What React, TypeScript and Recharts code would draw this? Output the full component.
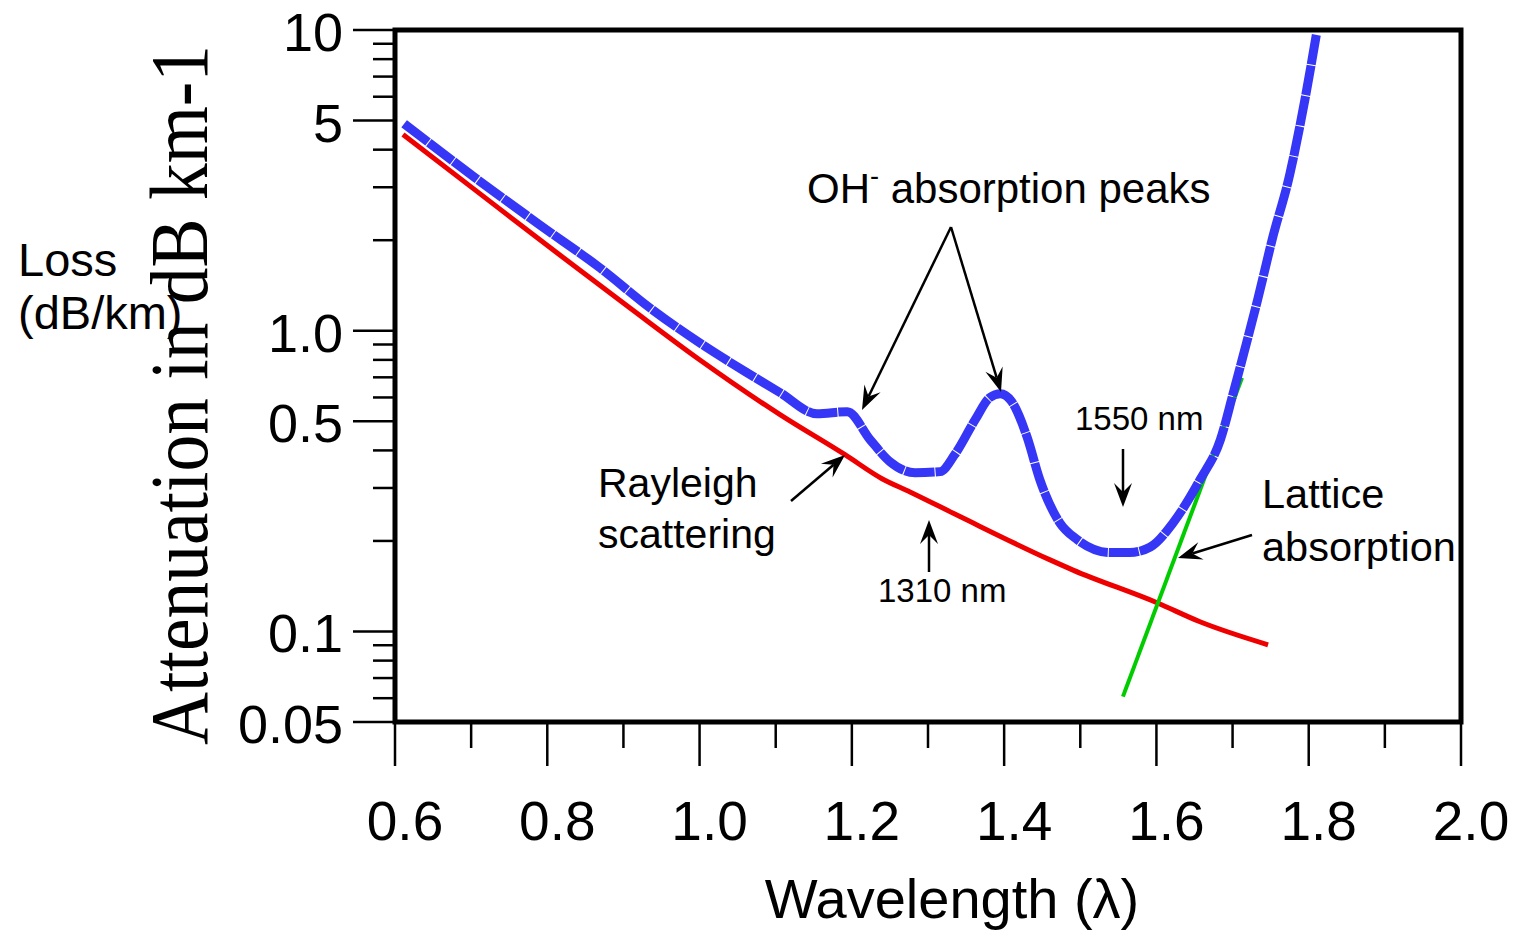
import React from 'react';
import { LineChart, Line, XAxis, YAxis, ReferenceArea } from 'recharts';

// total loss curve (blue)
const totalWavelength = [0.612, 0.705, 0.79, 0.869, 0.935, 1.0, 1.06, 1.106, 1.154, 1.194, 1.224, 1.25, 1.283, 1.316, 1.335, 1.362, 1.381, 1.395, 1.41, 1.43, 1.447, 1.473, 1.496, 1.539, 1.565, 1.592, 1.622, 1.657, 1.684, 1.701, 1.716, 1.733, 1.752, 1.775, 1.795, 1.81];
const totalLoss = [4.88, 3.23, 2.25, 1.62, 1.19, 0.912, 0.731, 0.622, 0.53, 0.538, 0.434, 0.367, 0.337, 0.34, 0.387, 0.506, 0.599, 0.617, 0.581, 0.444, 0.319, 0.23, 0.202, 0.183, 0.183, 0.191, 0.23, 0.319, 0.434, 0.622, 0.865, 1.27, 2.01, 3.3, 5.87, 9.64];

// Rayleigh scattering (red)
const rayleighWavelength = [0.6105, 0.705, 0.8036, 0.9086, 1.0, 1.1057, 1.191, 1.2396, 1.2764, 1.342, 1.4603, 1.4905, 1.6008, 1.6572, 1.7466];
const rayleighLoss = [4.49, 2.94, 1.89, 1.19, 0.801, 0.526, 0.387, 0.322, 0.291, 0.241, 0.173, 0.16, 0.1246, 0.1077, 0.0903];

// lattice absorption (green)
const latticeWavelength = [1.556, 1.7124];
const latticeLoss = [0.0607, 0.698];

const xTicks = [0.6, 0.7, 0.8, 0.9, 1.0, 1.1, 1.2, 1.3, 1.4, 1.5, 1.6, 1.7, 1.8, 1.9, 2.0];
const xMajor = [0.6, 0.8, 1.0, 1.2, 1.4, 1.6, 1.8, 2.0];
const xLabels = ['0.6', '0.8', '1.0', '1.2', '1.4', '1.6', '1.8', '2.0'];

const yTicks = [0.05, 0.06, 0.07, 0.08, 0.09, 0.1, 0.2, 0.3, 0.4, 0.5, 0.6, 0.7, 0.8, 0.9, 1, 2, 3, 4, 5, 6, 7, 8, 9, 10];
const yMajor = [0.05, 0.1, 0.5, 1, 5, 10];
const yLabels = ['0.05', '0.1', '0.5', '1.0', '5', '10'];

const toRows = (xs: number[], ys: number[]) => xs.map((w, i) => ({ w, loss: ys[i] }));
const totalData = toRows(totalWavelength, totalLoss);
const rayleighData = toRows(rayleighWavelength, rayleighLoss);
const latticeData = toRows(latticeWavelength, latticeLoss);

const SANS = '"Liberation Sans", Arial, Helvetica, sans-serif';

const XTick = (props: any) => {
  const { x, y, payload } = props;
  const idx = xMajor.findIndex((v) => Math.abs(v - payload.value) < 1e-6);
  const major = idx >= 0;
  return (
    <g>
      <line x1={x} x2={x} y1={y} y2={y + (major ? 44 : 26)} stroke="#000" strokeWidth={2.5} />
      {major && (
        <text x={x + 10} y={y + 118} textAnchor="middle" fontSize={55} fontFamily={SANS} fill="#000">
          {xLabels[idx]}
        </text>
      )}
    </g>
  );
};

const YTick = (props: any) => {
  const { x, y, payload } = props;
  const idx = yMajor.findIndex((v) => Math.abs(v - payload.value) < 1e-9);
  const major = idx >= 0;
  return (
    <g>
      <line x1={x - (major ? 42 : 22)} x2={x} y1={y} y2={y} stroke="#000" strokeWidth={2.5} />
      {major && (
        <text x={x - 52} y={y + 21} textAnchor="end" fontSize={54} fontFamily={SANS} fill="#000">
          {yLabels[idx]}
        </text>
      )}
    </g>
  );
};

const Arrow = ({ x1, y1, x2, y2 }: { x1: number; y1: number; x2: number; y2: number }) => {
  const dx = x2 - x1;
  const dy = y2 - y1;
  const len = Math.hypot(dx, dy);
  const ux = dx / len;
  const uy = dy / len;
  const nx = -uy;
  const ny = ux;
  const L = 24;
  const W = 9;
  const N = 15;
  const pts = [
    [x2, y2],
    [x2 - L * ux + W * nx, y2 - L * uy + W * ny],
    [x2 - N * ux, y2 - N * uy],
    [x2 - L * ux - W * nx, y2 - L * uy - W * ny],
  ]
    .map((p) => p.join(','))
    .join(' ');
  return (
    <g>
      <line x1={x1} y1={y1} x2={x2 - N * ux} y2={y2 - N * uy} stroke="#000" strokeWidth={2.5} />
      <polygon points={pts} fill="#000" />
    </g>
  );
};

export default function App() {
  return (
    <div style={{ position: 'absolute', left: 0, top: 0, width: 1526, height: 931, background: '#fff' }}>
      <LineChart width={1526} height={931} margin={{ top: 30, right: 65, left: 295, bottom: 109 }}>
        <XAxis
          type="number"
          dataKey="w"
          domain={[0.6, 2.0]}
          ticks={xTicks}
          interval={0}
          allowDataOverflow
          axisLine={false}
          tickLine={false}
          tickSize={0}
          tickMargin={0}
          height={100}
          tick={<XTick />}
        />
        <YAxis
          type="number"
          scale="log"
          domain={[0.05, 10]}
          ticks={yTicks}
          interval={0}
          allowDataOverflow
          axisLine={false}
          tickLine={false}
          tickSize={0}
          tickMargin={0}
          width={100}
          tick={<YTick />}
        />
        <ReferenceArea
          x1={0.6}
          x2={2.0}
          y1={0.05}
          y2={10}
          fill="none"
          fillOpacity={0}
          stroke="#000"
          strokeWidth={5}
          ifOverflow="visible"
        />
        <Line
          data={rayleighData}
          dataKey="loss"
          type="monotone"
          stroke="#ee0000"
          strokeWidth={5}
          dot={false}
          activeDot={false}
          isAnimationActive={false}
        />
        <Line
          data={latticeData}
          dataKey="loss"
          type="linear"
          stroke="#00cc00"
          strokeWidth={4}
          dot={false}
          activeDot={false}
          isAnimationActive={false}
        />
        <Line
          data={totalData}
          dataKey="loss"
          type="monotone"
          stroke="#3636f6"
          strokeWidth={9}
          strokeDasharray="30 1"
          dot={false}
          activeDot={false}
          isAnimationActive={false}
        />
      </LineChart>

      <svg
        width={1526}
        height={931}
        style={{ position: 'absolute', left: 0, top: 0, pointerEvents: 'none' }}
        fontFamily={SANS}
      >
        <text x={18} y={276} fontSize={47} fill="#000">Loss</text>
        <text x={18} y={329} fontSize={47} fill="#000">(dB/km)</text>
        <text
          transform="translate(207, 745) rotate(-90)"
          fontSize={83}
          fontFamily='"Liberation Serif", "Times New Roman", serif'
          textLength={700}
          lengthAdjust="spacingAndGlyphs"
          fill="#000"
        >
          Attenuation in dB km-1
        </text>
        <text x={952} y={918} textAnchor="middle" fontSize={56} fill="#000">Wavelength (λ)</text>

        <text x={807} y={203} fontSize={42} fill="#000">
          OH<tspan dy={-18} fontSize={27}>-</tspan><tspan dy={18}> absorption peaks</tspan>
        </text>
        <Arrow x1={951} y1={227} x2={862} y2={410} />
        <Arrow x1={951} y1={227} x2={1001} y2={392} />

        <text x={598} y={497} fontSize={41} fill="#000">Rayleigh</text>
        <text x={598} y={548} fontSize={41} fill="#000">scattering</text>
        <Arrow x1={791} y1={501} x2={845} y2={455} />

        <text x={878} y={602} fontSize={33} fill="#000">1310 nm</text>
        <Arrow x1={929} y1={572} x2={929} y2={520} />

        <text x={1075} y={430} fontSize={33} fill="#000">1550 nm</text>
        <Arrow x1={1123} y1={449} x2={1123} y2={507} />

        <text x={1262} y={508} fontSize={41.5} fill="#000">Lattice</text>
        <text x={1262} y={561} fontSize={41.5} fill="#000">absorption</text>
        <Arrow x1={1252} y1={535} x2={1178} y2={558} />
      </svg>
    </div>
  );
}
